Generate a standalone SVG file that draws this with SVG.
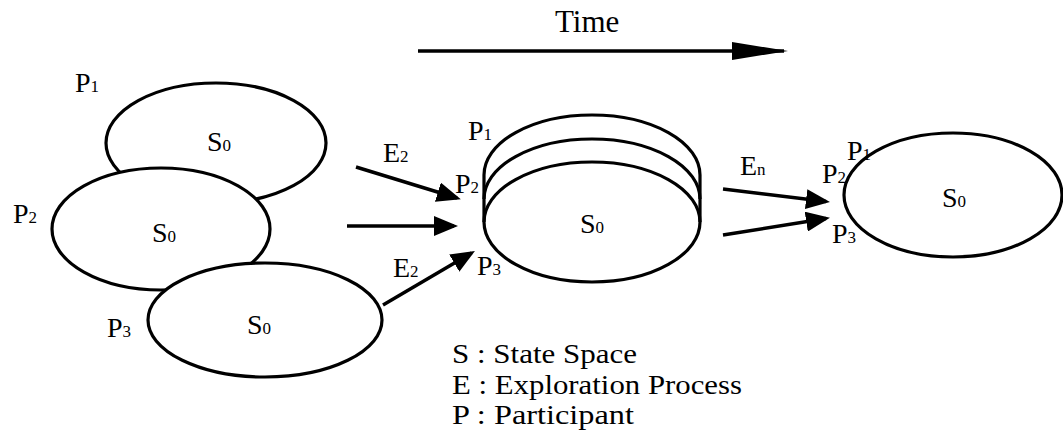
<svg xmlns="http://www.w3.org/2000/svg" width="1063" height="443" viewBox="0 0 1063 443" font-family="'Liberation Serif', 'Times New Roman', 'DejaVu Serif', serif">
<style>
.shape{fill:#fff;stroke:#000;stroke-width:3.2}
.arc{fill:none;stroke:#000;stroke-width:3.2}
.conn{fill:none;stroke:#000;stroke-width:3.5}
text{font-family:'Liberation Serif','Times New Roman','DejaVu Serif',serif;font-size:28px;fill:#000}
.sub{font-size:17px}
.big{font-size:31px}
.leg{font-size:27px}
</style>
<defs>
<marker id="ah" markerUnits="userSpaceOnUse" markerWidth="24" markerHeight="20" viewBox="0 0 24 20" refX="20" refY="10" orient="auto">
<path d="M0,0 L24,10 L0,20 Z" fill="#000"/>
</marker>
<marker id="ahBig" markerUnits="userSpaceOnUse" markerWidth="56" markerHeight="18" viewBox="0 0 56 18" refX="52" refY="9" orient="auto">
<path d="M0,0 L56,9 L0,18 Z" fill="#000"/>
</marker>
</defs>
<rect width="1063" height="443" fill="#fff"/>

<g id="time">
<text x="555" y="32" class="big">Time</text>
</g>

<g id="connectors">
<line class="conn" x1="418" y1="51" x2="784" y2="51" marker-end="url(#ahBig)"/>
<line class="conn" x1="356" y1="167" x2="457" y2="198" marker-end="url(#ah)"/>
<line class="conn" x1="347" y1="226" x2="454" y2="226" marker-end="url(#ah)"/>
<line class="conn" x1="383" y1="305" x2="471.5" y2="253" marker-end="url(#ah)"/>
<line class="conn" x1="723" y1="189" x2="826" y2="201.5" marker-end="url(#ah)"/>
<line class="conn" x1="723" y1="235" x2="826" y2="218.5" marker-end="url(#ah)"/>
<text x="383" y="162">E<tspan class="sub">2</tspan></text>
<text x="393" y="277">E<tspan class="sub">2</tspan></text>
<text x="740" y="175">E<tspan class="sub">n</tspan></text>
</g>

<g id="s1">
<ellipse class="shape" cx="216" cy="143" rx="110" ry="60"/>
<text x="207" y="151">S<tspan class="sub">0</tspan></text>
<text x="75" y="92">P<tspan class="sub">1</tspan></text>
</g>
<g id="s2">
<ellipse class="shape" cx="161" cy="229" rx="109" ry="61"/>
<text x="152" y="242">S<tspan class="sub">0</tspan></text>
<text x="13" y="223">P<tspan class="sub">2</tspan></text>
</g>
<g id="s3">
<ellipse class="shape" cx="265" cy="320" rx="117" ry="57"/>
<text x="247" y="334">S<tspan class="sub">0</tspan></text>
<text x="107" y="337">P<tspan class="sub">3</tspan></text>
</g>

<g id="merged">
<path class="shape" d="M484,175 A108,60 0 0 1 700,175 L700,222 A108,60 0 0 1 484,222 Z"/>
<path class="arc" d="M484,199 A108,60 0 0 1 700,199"/>
<path class="arc" d="M484,222 A108,60 0 0 1 700,222"/>
<text x="580" y="233">S<tspan class="sub">0</tspan></text>
<text x="468" y="140">P<tspan class="sub">1</tspan></text>
<text x="455" y="193">P<tspan class="sub">2</tspan></text>
<text x="477" y="275">P<tspan class="sub">3</tspan></text>
</g>

<g id="final">
<ellipse class="shape" cx="953" cy="195" rx="109" ry="62"/>
<text x="942" y="207">S<tspan class="sub">0</tspan></text>
<text x="847" y="160">P<tspan class="sub">1</tspan></text>
<text x="822" y="183">P<tspan class="sub">2</tspan></text>
<text x="832" y="243">P<tspan class="sub">3</tspan></text>
</g>

<g id="legend">
<text x="452" y="363" class="leg" textLength="185" lengthAdjust="spacingAndGlyphs">S : State Space</text>
<text x="452" y="393.5" class="leg" textLength="290" lengthAdjust="spacingAndGlyphs">E : Exploration Process</text>
<text x="452" y="424" class="leg" textLength="182" lengthAdjust="spacingAndGlyphs">P : Participant</text>
</g>
</svg>
